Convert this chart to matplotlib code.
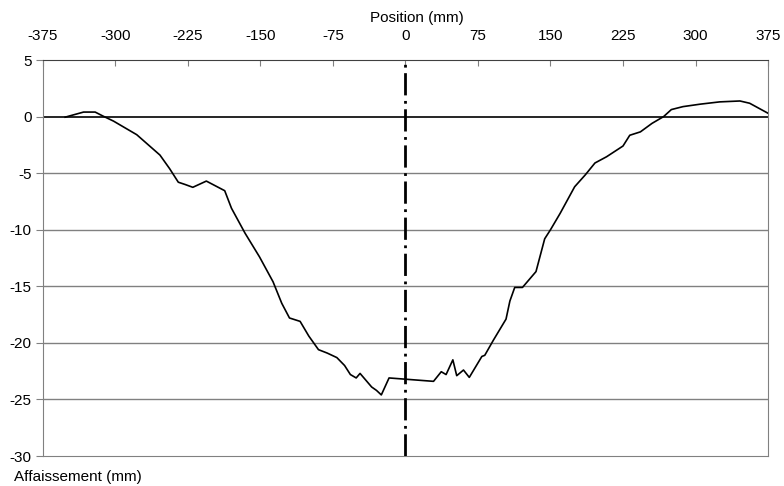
import matplotlib
matplotlib.use("Agg")
import matplotlib.pyplot as plt

plt.rcParams['font.family'] = ['Liberation Sans', 'DejaVu Sans']
plt.rcParams['axes.unicode_minus'] = False

# profil d'affaissement
position = [-352, -333, -321, -313, -302, -290, -278, -268, -254, -244, -235, -228,
            -220, -206, -187, -180, -166, -151, -137, -128, -120, -109, -100, -90,
            -81, -71, -63, -57, -51, -47, -35, -30, -25, -17, 29, 37, 42, 49, 53,
            60, 66, 79, 82, 91, 104, 108, 113, 121, 135, 144, 150, 160, 175, 186,
            196, 208, 225, 232, 243, 255, 267, 275, 287, 305, 325, 346, 356, 376]
affaissement = [-0.05, 0.4, 0.4, 0.05, -0.4, -1.0, -1.6, -2.35, -3.4, -4.6, -5.8, -6.0,
                -6.25, -5.7, -6.55, -8.1, -10.3, -12.4, -14.6, -16.5, -17.8, -18.1, -19.4, -20.6,
                -20.9, -21.3, -22.0, -22.8, -23.1, -22.7, -23.9, -24.2, -24.6, -23.1, -23.4, -22.55, -22.8, -21.5, -22.9,
                -22.4, -23.05, -21.2, -21.1, -19.75, -17.9, -16.3, -15.1, -15.1, -13.7, -10.8, -10.0, -8.55, -6.2, -5.15,
                -4.1, -3.55, -2.6, -1.65, -1.35, -0.6, 0.0, 0.62, 0.88, 1.1, 1.3, 1.38, 1.18, 0.25]

x_ticks = [-375, -300, -225, -150, -75, 0, 75, 150, 225, 300, 375]
y_ticks = [5, 0, -5, -10, -15, -20, -25, -30]

fig = plt.figure(figsize=(7.84, 4.86), dpi=100)
ax = fig.add_axes([0.0548, 0.0617, 0.9248, 0.8148])

for y in y_ticks[2:-1]:
    ax.axhline(y, color='#808080', lw=1, zorder=1)
ax.axhline(0, color='black', lw=1.2, zorder=2)
ax.axvline(0, color='black', lw=2, dashes=(8, 2, 1, 2), zorder=3)

ax.plot(position, affaissement, color='black', lw=1.2, zorder=4)

ax.set_xlim(-375, 375)
ax.set_ylim(-30, 5)
ax.set_xticks(x_ticks)
ax.set_yticks(y_ticks)
ax.xaxis.tick_top()
ax.tick_params(axis='x', direction='in', length=4, color='#808080', labelsize=11, pad=12)
ax.tick_params(axis='y', direction='out', length=5, color='#808080', labelsize=11, pad=3)

for side in ['left', 'right', 'bottom', 'top']:
    ax.spines[side].set_color('#808080')
ax.spines['top'].set_color('#404040')

fig.text(417 / 784, 1 - 18 / 486, 'Position (mm)', fontsize=11, ha='center', va='center')
fig.text(14 / 784, 1 - 477 / 486, 'Affaissement (mm)', fontsize=11, ha='left', va='center')

fig.savefig('out.png', dpi=100)
